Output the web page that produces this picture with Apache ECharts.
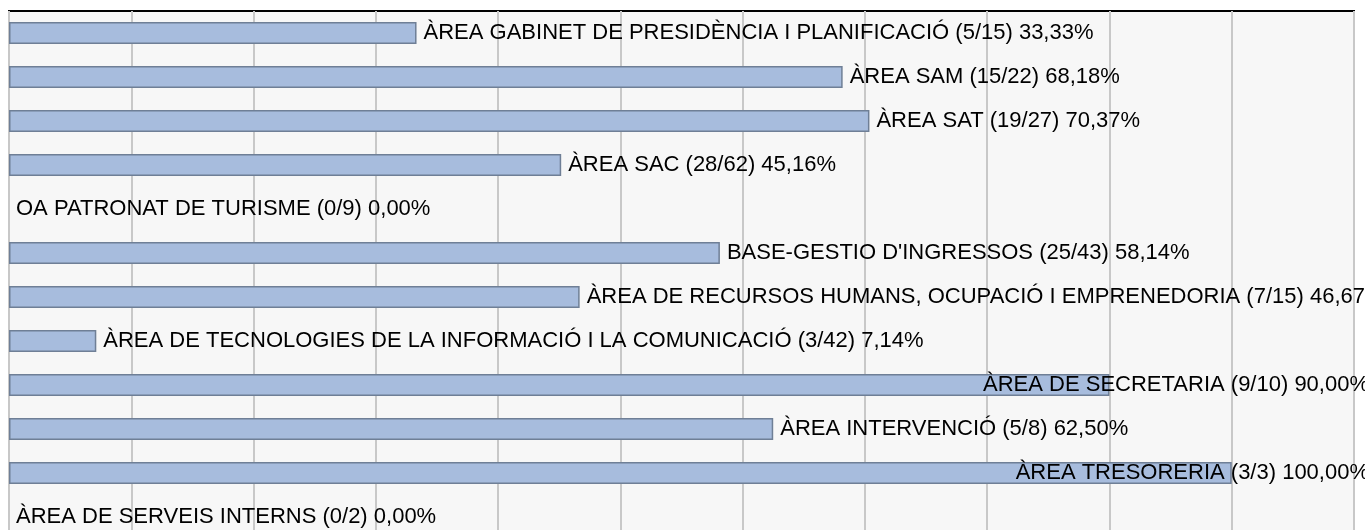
<!DOCTYPE html>
<html>
<head>
<meta charset="utf-8">
<script src="https://cdn.jsdelivr.net/npm/echarts@6/dist/echarts.min.js"></script>
<style>
  html, body { margin: 0; padding: 0; background: #fff; }
  #main { width: 1365px; height: 530px; }
</style>
</head>
<body>
<div id="main"></div>
<script>
// àrees, fets / total, percentatge
const areas = [
  "ÀREA GABINET DE PRESIDÈNCIA I PLANIFICACIÓ",
  "ÀREA SAM",
  "ÀREA SAT",
  "ÀREA SAC",
  "OA PATRONAT DE TURISME",
  "BASE-GESTIO D'INGRESSOS",
  "ÀREA DE RECURSOS HUMANS, OCUPACIÓ I EMPRENEDORIA",
  "ÀREA DE TECNOLOGIES DE LA INFORMACIÓ I LA COMUNICACIÓ",
  "ÀREA DE SECRETARIA",
  "ÀREA INTERVENCIÓ",
  "ÀREA TRESORERIA",
  "ÀREA DE SERVEIS INTERNS"
];
const fets = [5, 15, 19, 28, 0, 25, 7, 3, 9, 5, 3, 0];
const totals = [15, 22, 27, 62, 9, 43, 15, 42, 10, 8, 3, 2];
const percents = [33.33, 68.18, 70.37, 45.16, 0, 58.14, 46.67, 7.14, 90, 62.5, 100, 0];

const chartDom = document.getElementById("main");
const myChart = echarts.init(chartDom);

const fmt = (v) => v.toFixed(2).replace(".", ",") + "%";

const data = percents.map((v) => ({
  value: v,
  itemStyle: { borderWidth: v > 0 ? 1.5 : 0 }
}));

const option = {
  backgroundColor: "#ffffff",
  animation: false,
  grid: {
    left: 9,
    top: 11,
    width: 1345,
    height: 528,
    outerBoundsMode: "none",
    containLabel: false,
    show: true,
    backgroundColor: "#f7f7f7",
    borderColor: "#000",
    borderWidth: 2
  },
  xAxis: {
    type: "value",
    min: 0,
    max: 110,
    interval: 10,
    axisLine: { show: false },
    axisTick: { show: false },
    axisLabel: { show: false },
    splitLine: { show: true, lineStyle: { color: "#c8c8c8", width: 2 } }
  },
  yAxis: {
    type: "category",
    inverse: true,
    data: areas,
    axisLine: { show: false },
    axisTick: { show: false },
    axisLabel: { show: false },
    splitLine: { show: false }
  },
  series: [
    {
      type: "bar",
      data: data,
      barWidth: 22,
      itemStyle: {
        color: "#a7bcdd",
        borderColor: "#6f7f96",
        borderWidth: 1.5
      },
      label: {
        show: true,
        position: "right",
        distance: 7,
        color: "#000",
        fontSize: 22,
        fontFamily: "Liberation Sans, Arial, sans-serif",
        formatter: (p) => `${areas[p.dataIndex]} (${fets[p.dataIndex]}/${totals[p.dataIndex]}) ${fmt(p.value)}`
      },
      labelLayout: (p) => {
        const w = myChart.getWidth();
        if (p.labelRect.x + p.labelRect.width > w && p.rect.width > p.labelRect.width) {
          return {
            x: w + 4,
            y: p.labelRect.y + p.labelRect.height / 2,
            align: "right",
            verticalAlign: "middle"
          };
        }
        return {};
      }
    }
  ]
};

myChart.setOption(option);
</script>
</body>
</html>
